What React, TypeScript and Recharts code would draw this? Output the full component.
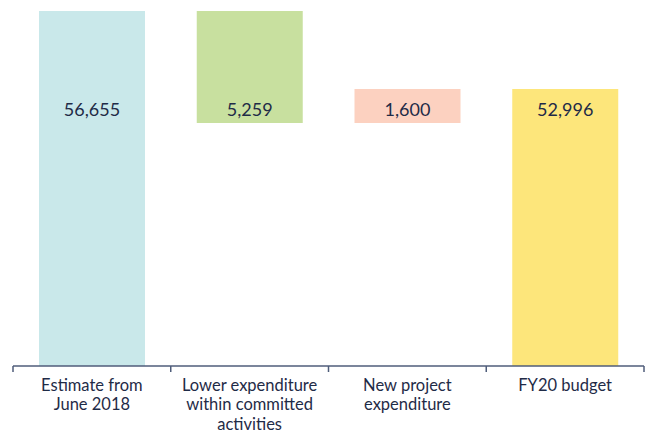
import { BarChart, Bar, XAxis, YAxis, Cell, LabelList } from 'recharts';

const categories = [
  'Estimate from\nJune 2018',
  'Lower expenditure\nwithin committed\nactivities',
  'New project\nexpenditure',
  'FY20 budget',
];
const amounts = [56655, -5259, 1600, 52996];
const isTotal = [true, false, false, true];
const barColors = ['#c9e8ea', '#c8e09f', '#fcd1c0', '#fde67b'];

const CHART_W = 646;
const CHART_H = 433;
const MARGIN = { top: 11, right: 2, bottom: 0, left: 13 };
const AXIS_COLOR = '#4f5d7a';
const TEXT_COLOR = '#1f2b47';
const FONT = 'Lato, "Open Sans", sans-serif';

// construire les barres du waterfall
let running = 0;
const data = categories.map((name, i) => {
  let range: [number, number];
  if (isTotal[i]) {
    running = amounts[i];
    range = [0, amounts[i]];
  } else {
    const start = running;
    running = running + amounts[i];
    range = [Math.min(start, running), Math.max(start, running)];
  }
  return { name, range, label: Math.abs(amounts[i]).toLocaleString('en-US') };
});

const band = (CHART_W - MARGIN.left - MARGIN.right) / categories.length;

function CategoryTick(props: any) {
  const { x, y, payload, index } = props;
  const lines = String(payload.value).split('\n');
  const top = y - 8;
  return (
    <g>
      <line x1={x - band / 2} x2={x - band / 2} y1={top} y2={top + 6} stroke={AXIS_COLOR} strokeWidth={1.5} />
      {index === categories.length - 1 && (
        <line x1={x + band / 2} x2={x + band / 2} y1={top} y2={top + 6} stroke={AXIS_COLOR} strokeWidth={1.5} />
      )}
      <text x={x} y={top + 24.5} textAnchor="middle" fill={TEXT_COLOR} fontSize={16.5} fontFamily={FONT}>
        {lines.map((l, i) => (
          <tspan key={i} x={x} dy={i === 0 ? 0 : 19.5}>
            {l}
          </tspan>
        ))}
      </text>
    </g>
  );
}

function ValueLabel(props: any) {
  const { x, width, value } = props;
  return (
    <text
      x={x + width / 2}
      y={MARGIN.top + 105}
      textAnchor="middle"
      fill={TEXT_COLOR}
      fontSize={18}
      fontFamily={FONT}
    >
      {value}
    </text>
  );
}

export default function App() {
  return (
    <div style={{ position: 'absolute', left: 0, top: 0, background: '#fff' }}>
      <BarChart width={CHART_W} height={CHART_H} data={data} margin={MARGIN}>
        <XAxis
          dataKey="name"
          interval={0}
          height={67}
          axisLine={{ stroke: AXIS_COLOR, strokeWidth: 1.5 }}
          tickLine={false}
          tick={<CategoryTick />}
        />
        <YAxis hide domain={[40000, 56655]} allowDataOverflow />
        <Bar dataKey="range" barSize={106} isAnimationActive={false}>
          {data.map((d, i) => (
            <Cell key={d.name} fill={barColors[i]} />
          ))}
          <LabelList dataKey="label" content={<ValueLabel />} />
        </Bar>
      </BarChart>
    </div>
  );
}
